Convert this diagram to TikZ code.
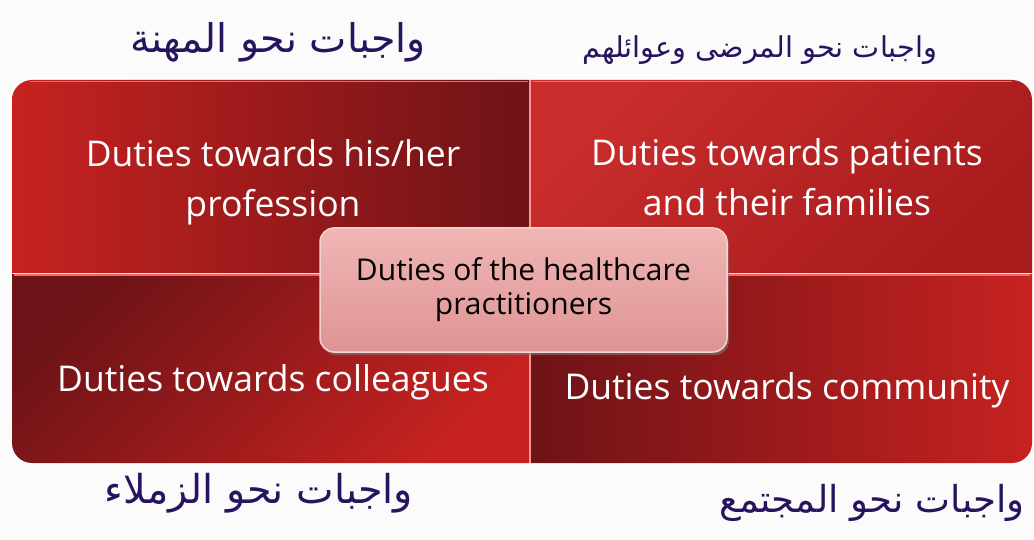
\documentclass[tikz,border=0pt]{standalone}
\usepackage{fontspec}
\setmainfont{Open Sans}
\newfontfamily\arabicfont[Script=Arabic]{DejaVu Sans}
\TeXXeTstate=1
\usetikzlibrary{shadows}
\definecolor{brightred}{HTML}{C62220}
\definecolor{maroon}{HTML}{6E1317}
\definecolor{midred}{HTML}{A81B1D}
\definecolor{ink}{HTML}{28135E}
\definecolor{pinktop}{HTML}{F0B6B5}
\definecolor{pinkbot}{HTML}{DE9493}
\definecolor{bevel}{HTML}{F26A66}
\tikzset{
  quadtext/.style={text=white, align=center, font=\fontsize{35.5}{50}\selectfont},
  centertext/.style={text=black, align=center, font=\fontsize{30}{34}\selectfont},
  hand/.style={text=ink, inner sep=0pt},
  divider/.style={draw=bevel, line width=1.5pt},
}
\begin{document}
\begin{tikzpicture}[x=1pt,y=1pt]
\useasboundingbox[fill=white!97!gray] (0,0) rectangle (1034,539);
% quadrants
\shade[left color=brightred, right color=maroon]
  (12,266) -- (12,439) arc[start angle=180,end angle=90,radius=20] -- (529,459) -- (529,266) -- cycle;
\shade[top color=brightred!95!white, bottom color=midred, shading angle=45]
  (531,266) -- (531,459) -- (1012,459) arc[start angle=90,end angle=0,radius=20] -- (1032,266) -- cycle;
\shade[top color=maroon, bottom color=brightred, shading angle=45]
  (12,265) -- (529,265) -- (529,76) -- (32,76) arc[start angle=270,end angle=180,radius=20] -- cycle;
\shade[left color=maroon, right color=brightred]
  (531,265) -- (1032,265) -- (1032,96) arc[start angle=0,end angle=-90,radius=20] -- (531,76) -- cycle;
% bevel highlights
\draw[divider] (30,457.5) -- (528,457.5);
\draw[divider] (532,457.5) -- (1012,457.5);
\draw[divider] (14,264) -- (528,264);
\draw[divider] (532,264) -- (1030,264);
\draw[divider, draw=bevel!70!white] (530,459) -- (530,76);
% quadrant texts
\node[quadtext] (prof) at (273,357) {Duties towards his/her\\profession};
\node[quadtext] (pat) at (787,362) {Duties towards patients\\and their families};
\node[quadtext] (coll) at (273,157) {Duties towards colleagues};
\node[quadtext] (comm) at (787,149) {Duties towards community};
% center box
\node[draw=pinktop!60!white, line width=1.5pt, rounded corners=14pt,
      top color=pinktop, bottom color=pinkbot,
      minimum width=407pt, minimum height=124pt,
      drop shadow={shadow xshift=2pt, shadow yshift=-3pt, opacity=0.55},
      centertext] (center) at (523.5,249) {Duties of the healthcare\\practitioners};
% handwritten Arabic labels
\node[hand] (arprof) at (278,497) {\resizebox{295pt}{!}{\arabicfont\beginR واجبات نحو المهنة\endR}};
\node[hand] (arpat) at (760,489) {\resizebox{354pt}{!}{\arabicfont\beginR واجبات نحو المرضى وعوائلهم\endR}};
\node[hand] (arcoll) at (259,46) {\resizebox{308pt}{!}{\arabicfont\beginR واجبات نحو الزملاء\endR}};
\node[hand] (arcomm) at (872,36) {\resizebox{305pt}{!}{\arabicfont\beginR واجبات نحو المجتمع\endR}};
\end{tikzpicture}
\end{document}
